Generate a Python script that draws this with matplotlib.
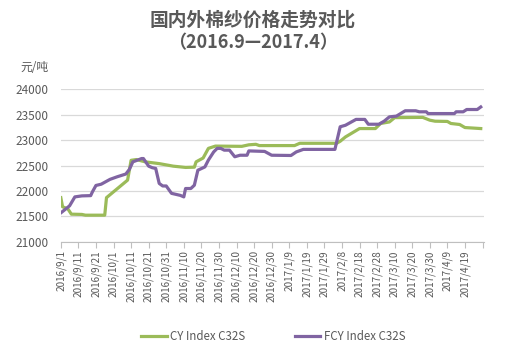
import matplotlib.pyplot as plt
import pandas as pd

plt.rcParams['font.family'] = ['Noto Sans CJK SC', 'DejaVu Sans']

# CY Index C32S (domestic)
cy_dates = ['2016-09-01', '2016-09-02', '2016-09-05', '2016-09-07', '2016-09-13', '2016-09-15',
            '2016-09-26', '2016-09-27', '2016-10-09', '2016-10-11', '2016-10-14', '2016-10-19',
            '2016-10-27', '2016-11-04', '2016-11-11', '2016-11-16', '2016-11-17', '2016-11-21',
            '2016-11-24', '2016-11-28', '2016-12-13', '2016-12-17', '2016-12-21', '2016-12-23',
            '2017-01-12', '2017-01-15', '2017-02-05', '2017-02-07', '2017-02-10', '2017-02-18',
            '2017-02-27', '2017-03-02', '2017-03-07', '2017-03-10', '2017-03-26', '2017-03-30',
            '2017-04-02', '2017-04-09', '2017-04-11', '2017-04-16', '2017-04-19', '2017-04-28']
cy_values = [21870, 21690, 21650, 21545, 21540, 21525,
             21525, 21870, 22215, 22605, 22620, 22575,
             22540, 22490, 22465, 22470, 22575, 22650,
             22840, 22885, 22880, 22910, 22920, 22895,
             22895, 22940, 22940, 22980, 23065, 23230,
             23230, 23330, 23360, 23445, 23450, 23395,
             23375, 23370, 23330, 23310, 23250, 23230]

# FCY Index C32S (imported)
fcy_dates = ['2016-09-01', '2016-09-03', '2016-09-06', '2016-09-09', '2016-09-13', '2016-09-18',
             '2016-09-19', '2016-09-21', '2016-09-24', '2016-09-29', '2016-10-03', '2016-10-08',
             '2016-10-10', '2016-10-12', '2016-10-14', '2016-10-17', '2016-10-18', '2016-10-21',
             '2016-10-23', '2016-10-25', '2016-10-27', '2016-10-29', '2016-10-31', '2016-11-03',
             '2016-11-08', '2016-11-10', '2016-11-11', '2016-11-14', '2016-11-16', '2016-11-18',
             '2016-11-22', '2016-11-24', '2016-11-27', '2016-11-29', '2016-12-01', '2016-12-03',
             '2016-12-06', '2016-12-09', '2016-12-12', '2016-12-16', '2016-12-17', '2016-12-26',
             '2016-12-30', '2017-01-10', '2017-01-13', '2017-01-17', '2017-02-04', '2017-02-07',
             '2017-02-10', '2017-02-16', '2017-02-21', '2017-02-23', '2017-03-01', '2017-03-04',
             '2017-03-07', '2017-03-11', '2017-03-16', '2017-03-22', '2017-03-24', '2017-03-28',
             '2017-03-29', '2017-04-13', '2017-04-14', '2017-04-18', '2017-04-20', '2017-04-26',
             '2017-04-28']
fcy_values = [21570, 21625, 21710, 21885, 21905, 21910,
              21985, 22110, 22135, 22230, 22280, 22335,
              22425, 22575, 22600, 22640, 22640, 22490,
              22460, 22445, 22150, 22100, 22100, 21955,
              21915, 21885, 22050, 22050, 22115, 22410,
              22475, 22610, 22770, 22840, 22840, 22805,
              22805, 22675, 22705, 22705, 22790, 22780,
              22705, 22700, 22770, 22820, 22820, 23265,
              23295, 23410, 23410, 23315, 23315, 23375,
              23460, 23475, 23580, 23580, 23560, 23560,
              23525, 23525, 23560, 23560, 23605, 23605,
              23655]

series_names = ['CY Index C32S', 'FCY Index C32S']
colors = ['#9bbb59', '#8064a2']
tick_dates = pd.date_range('2016-09-01', periods=25, freq='10D')

fig = plt.figure(figsize=(5.11, 3.48), dpi=100)
ax = fig.add_axes([0.119, 0.305, 0.828, 0.438])

ax.plot(pd.to_datetime(cy_dates), cy_values, color=colors[0], lw=2.3, label=series_names[0])
ax.plot(pd.to_datetime(fcy_dates), fcy_values, color=colors[1], lw=2.3, label=series_names[1])

ax.set_ylim(21000, 24000)
ax.set_yticks(range(21000, 24001, 500))
ax.set_xlim(pd.Timestamp('2016-09-01'), pd.Timestamp('2016-09-01') + pd.Timedelta(days=240.8))
ax.grid(axis='y', color='#d9d9d9', lw=0.9)
ax.set_axisbelow(True)

# date ticks every 10 days, last one unlabeled
ax.set_xticks(tick_dates)
labels = [f'{d.year}/{d.month}/{d.day}' for d in tick_dates[:-1]] + ['']
ax.set_xticklabels(labels, rotation=90, fontsize=7.2, color='#595959')
ax.tick_params(axis='x', length=4, color='#bfbfbf', pad=2)
ax.tick_params(axis='y', length=0, labelsize=8.5, labelcolor='#595959', pad=9)

for side in ['top', 'right', 'left']:
    ax.spines[side].set_visible(False)
ax.spines['bottom'].set_color('#bfbfbf')

fig.text(0.495, 0.943, '国内外棉纱价格走势对比', ha='center', va='center',
         fontsize=13.5, fontweight='bold', color='#595959')
fig.text(0.495, 0.876, '（2016.9—2017.4）', ha='center', va='center',
         fontsize=13, fontweight='bold', color='#595959')
fig.text(0.04, 0.805, '元/吨', ha='left', va='center', fontsize=8.5, color='#595959')

fig.legend(loc='center', bbox_to_anchor=(0.535, 0.033), ncol=2, frameon=False,
           fontsize=8.3, labelcolor='#595959', handlelength=2.2, columnspacing=4.3,
           handletextpad=0.3)

plt.savefig('out.png', dpi=100)
